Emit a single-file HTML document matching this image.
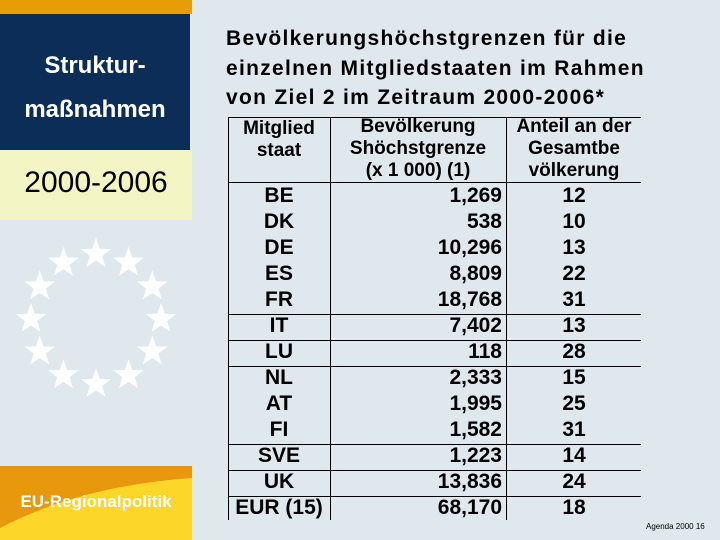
<!DOCTYPE html>
<html><head><meta charset="utf-8">
<style>
body{margin:0;width:720px;height:540px;overflow:hidden;background:#dfe8ec;font-family:"Liberation Sans",Arial,sans-serif;position:relative}
div{position:absolute}
.t{font-weight:bold;font-size:21px;color:#000;white-space:nowrap}
.h{font-weight:bold;font-size:19px;text-align:center;line-height:22px;white-space:nowrap}
.c{font-weight:bold;font-size:21px;white-space:nowrap}
</style></head><body>
<div style="left:0;top:0;width:192px;height:14px;background:#e79c0a"></div>
<div style="left:0;top:14px;width:190px;height:136px;background:#0b2d57"></div>
<div style="left:0;top:44px;width:190px;text-align:center;color:#fff;font-weight:bold;font-size:24px;line-height:44px">Struktur-<br>maßnahmen</div>
<div style="left:0;top:150px;width:192px;height:70px;background:#f3f5c4"></div>
<div style="left:0;top:166px;width:192px;text-align:center;font-size:30px;color:#000">2000-2006</div>
<svg style="position:absolute;left:0;top:220px" width="200" height="200" id="stars"></svg>
<svg style="position:absolute;left:0;top:466px" width="192" height="74">
<rect width="192" height="74" fill="#e8980c"/>
<path d="M0 74 L0 62 Q80 20 192 12 L192 74 Z" fill="#fcd72a"/>
</svg>
<div style="left:0;top:492px;width:192px;text-align:center;color:#fff;font-weight:bold;font-size:17px">EU-Regionalpolitik</div>
<div class="t" style="left:226px;top:24px;line-height:29.5px;letter-spacing:1.3px">Bevölkerungshöchstgrenzen für die<br>einzelnen Mitgliedstaaten im Rahmen<br>von Ziel 2 im Zeitraum 2000-2006*</div>
<div id="tbl" style="left:0;top:0;width:720px;height:540px"></div>
<div style="left:646px;top:522px;font-size:8px;color:#000">Agenda 2000 16</div>
<script>
const countries=["BE","DK","DE","ES","FR","IT","LU","NL","AT","FI","SVE","UK","EUR (15)"];
const populations=["1,269","538","10,296","8,809","18,768","7,402","118","2,333","1,995","1,582","1,223","13,836","68,170"];
const shares=["12","10","13","22","31","13","28","15","25","31","14","24","18"];
const lineAfter=[4,5,6,9,10,11];
const svgNS="http://www.w3.org/2000/svg";
const st=document.getElementById('stars');
for(let i=0;i<12;i++){
 const a=i*Math.PI/6, cx=96+65*Math.sin(a), cy=99-65*Math.cos(a);
 let pts=[];
 for(let k=0;k<10;k++){const r=k%2?6.5:16, b=k*Math.PI/5; pts.push((cx+r*Math.sin(b)).toFixed(1)+','+(cy-r*Math.cos(b)).toFixed(1));}
 const p=document.createElementNS(svgNS,'polygon');
 p.setAttribute('points',pts.join(' '));p.setAttribute('fill','#fff');
 
 
 st.appendChild(p);
}
const T=document.getElementById('tbl');
function mk(style,html,name){const d=document.createElement('div');d.style.cssText=style;if(html!==undefined)d.innerHTML=html;
 
 
 T.appendChild(d);return d;}
const top0=117, hdr=182, rh=26, bottom=520;
mk(`left:228px;top:${top0}px;width:413px;height:1px;background:#000`,'', 'table-top-border');
mk(`left:228px;top:${top0}px;width:1px;height:${bottom-top0}px;background:#000`,'', 'table-left-border');
mk(`left:330px;top:${top0}px;width:1px;height:${bottom-top0}px;background:#000`,'', 'col-divider');
mk(`left:506px;top:${top0}px;width:1px;height:${bottom-top0}px;background:#000`,'', 'col-divider');
mk(`left:228px;top:${hdr}px;width:413px;height:1px;background:#000`,'', 'header-rule');
mk(`left:228px;top:118px;width:102px`,'<div class="h" style="position:static">Mitglied<br>staat</div>','header-member');
mk(`left:330px;top:116px;width:176px`,'<div class="h" style="position:static">Bevölkerung<br>Shöchstgrenze<br>(x 1 000) (1)</div>','header-population');
mk(`left:506px;top:116px;width:136px`,'<div class="h" style="position:static">Anteil an der<br>Gesamtbe<br>völkerung</div>','header-share');
countries.forEach((c,i)=>{
 const y=hdr+i*rh;
 mk(`left:228px;top:${y+1}px;width:102px;text-align:center;line-height:${rh}px`,`<span class="c">${c}</span>`,'cell-country');
 mk(`left:330px;top:${y+1}px;width:172px;text-align:right;line-height:${rh}px`,`<span class="c">${populations[i]}</span>`,'cell-population');
 mk(`left:506px;top:${y+1}px;width:136px;text-align:center;line-height:${rh}px`,`<span class="c">${shares[i]}</span>`,'cell-share');
 if(lineAfter.includes(i)) mk(`left:228px;top:${Math.round(y+rh+2)}px;width:413px;height:1px;background:#000`,'','row-rule');
});
</script>
</body></html>
